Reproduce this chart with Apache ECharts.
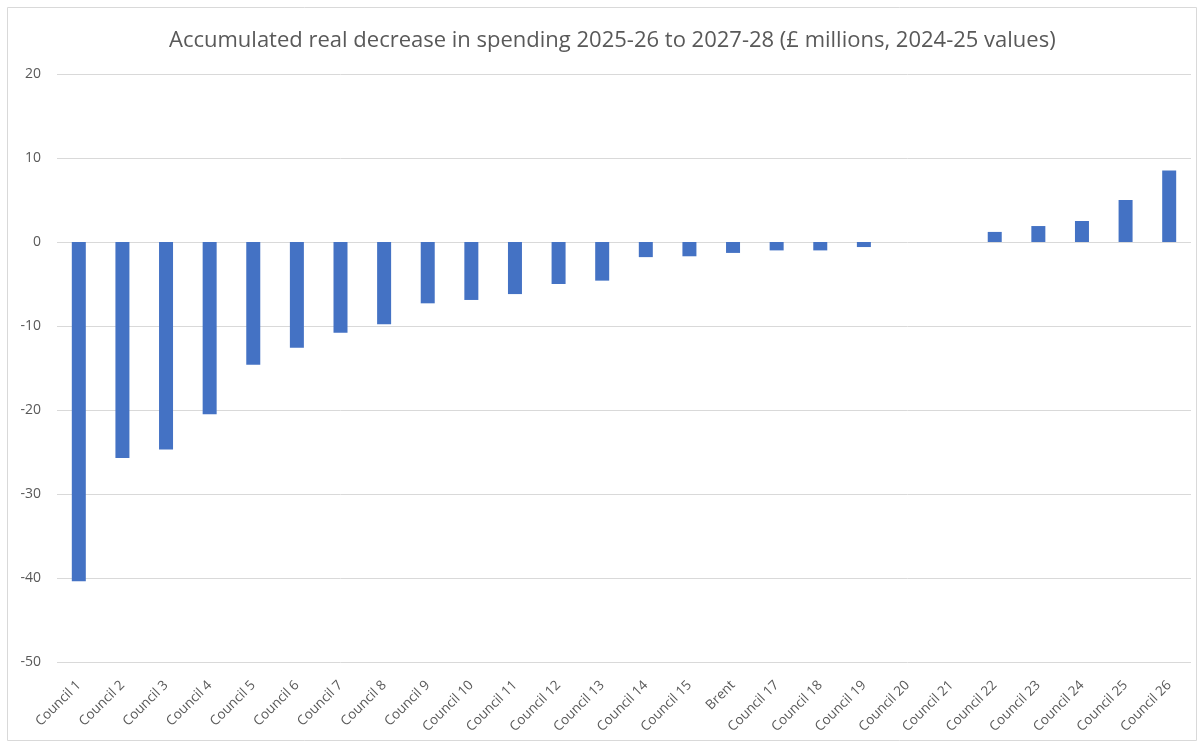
<!DOCTYPE html>
<html lang="en">
<head>
    <meta charset="UTF-8">
    <title>Accumulated real decrease in spending</title>
    <script src="https://cdn.jsdelivr.net/npm/echarts@6/dist/echarts.min.js"></script>
    <style>
        body { margin: 0; background: #fff; }
    </style>
</head>
<body>
    <div id="chart" style="width: 1203px; height: 743px;"></div>

    <script type="text/javascript">
        // categories along the x axis
        var councils = ['Council 1', 'Council 2', 'Council 3', 'Council 4', 'Council 5', 'Council 6',
            'Council 7', 'Council 8', 'Council 9', 'Council 10', 'Council 11', 'Council 12', 'Council 13',
            'Council 14', 'Council 15', 'Brent', 'Council 17', 'Council 18', 'Council 19', 'Council 20',
            'Council 21', 'Council 22', 'Council 23', 'Council 24', 'Council 25', 'Council 26'];

        // £ millions
        var decrease = [-40.4, -25.7, -24.7, -20.5, -14.6, -12.6, -10.8, -9.8, -7.3, -6.9, -6.2, -5.0, -4.6,
            -1.8, -1.7, -1.3, -1.0, -1.0, -0.6, 0, 0, 1.2, 1.9, 2.5, 5.0, 8.5];

        var yMin = -50, yMax = 20, yStep = 10;

        var chart = echarts.init(document.getElementById('chart'));

        var grey = '#595959';

        chart.setOption({
            animation: false,
            title: {
                text: 'Accumulated real decrease in spending 2025-26 to 2027-28 (£ millions, 2024-25 values)',
                left: 164,
                top: 25,
                textStyle: { color: grey, fontSize: 22, fontWeight: 'normal', fontFamily: 'Open Sans' }
            },
            graphic: [{
                type: 'rect',
                shape: { x: 7.5, y: 7.5, width: 1189, height: 733 },
                style: { fill: 'none', stroke: '#d9d9d9', lineWidth: 1 },
                silent: true
            }],
            grid: { left: 57, right: 12, top: 74, bottom: 81 },
            xAxis: {
                type: 'category',
                data: councils,
                position: 'bottom',
                axisLine: { show: false, onZero: false },
                axisTick: { show: false },
                axisLabel: {
                    interval: 0,
                    rotate: 45,
                    margin: 21,
                    color: grey,
                    fontSize: 13.5,
                    fontFamily: 'Open Sans'
                }
            },
            yAxis: {
                type: 'value',
                min: yMin,
                max: yMax,
                interval: yStep,
                axisLine: { show: false },
                axisTick: { show: false },
                axisLabel: { color: grey, fontSize: 14, margin: 16, fontFamily: 'Open Sans' },
                splitLine: { lineStyle: { color: '#d9d9d9', width: 1 } }
            },
            series: [{
                name: 'Decrease',
                type: 'bar',
                data: decrease,
                barWidth: 14,
                itemStyle: { color: '#4472c4' }
            }]
        });
    </script>
</body>
</html>
